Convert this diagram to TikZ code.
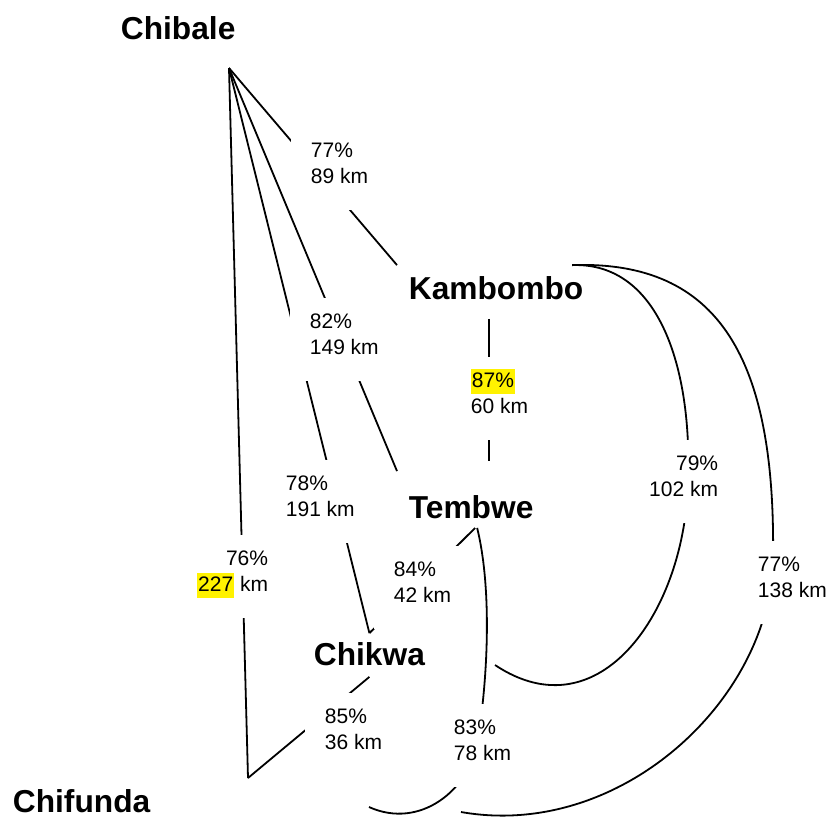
\documentclass[tikz,border=0pt]{standalone}
\usepackage{fontspec}
\setmainfont{Liberation Sans}

\newcommand{\hl}[1]{{\setlength{\fboxsep}{1pt}\colorbox{yellow}{\rule[-6pt]{0pt}{23pt}#1}}}
\newcommand{\twolines}[3][l]{\begin{tabular}[t]{@{}#1@{}}#2\\#3\end{tabular}}

\begin{document}
\begin{tikzpicture}[x=1pt,y=-1pt,line width=1.8pt,
place/.style={font=\fontsize{31.7}{38}\selectfont\bfseries,inner xsep=11pt,
    inner ysep=0pt,anchor=base west},
lbl/.style={fill=white,font=\fontsize{21}{26}\selectfont,inner xsep=20pt,
    inner ysep=0pt,text height=30pt,text depth=53pt,anchor=base west}]

\useasboundingbox (0,0) rectangle (827,823);

\node[place](chibalename) at (109,39) {Chibale};
\node[place](chifundaname) at (1,812) {Chifunda};
\node[place,text height=33pt,text depth=19pt](kambombo) at (397,299) {Kambombo};
\node[place,text height=56pt,text depth=9pt](tembwe) at (397,518) {Tembwe};
\node[place,text height=31pt,text depth=11pt](chikwa) at (302,665) {Chikwa};
\coordinate (chibale) at (229,68);
\coordinate (chifunda) at (248,778);
\coordinate (end79) at (495,665);
\coordinate (end77) at (461,812);
\coordinate (end83) at (369,807);

\draw (chibale) -- (kambombo.north west);
\draw (chibale) -- ([yshift=-10pt]tembwe.north west);
\draw (chibale) -- (chikwa.north);
\draw (chibale) -- (chifunda);
\draw ([xshift=-7pt]kambombo.south) -- ([xshift=-7pt]kambombo.south |- tembwe.north);
\draw ([xshift=4pt]tembwe.south) -- (chikwa.north);
\draw (chikwa.south) -- (chifunda);
\draw ([xshift=-23pt]kambombo.north east) .. controls (660,262) and (692,370) .. (688,480)
      .. controls (686,610) and (600,735) .. (end79);
\draw ([xshift=-23pt]kambombo.north east) .. controls (720,260) and (776,360) .. (773,560)
      .. controls (770,700) and (620,840) .. (end77);
\draw ([xshift=6pt]tembwe.south) .. controls (490,580) and (490,660) .. (478,740)
      .. controls (470,790) and (420,830) .. (end83);

\node[lbl](l77) at (290,157) {\twolines{77\%}{89 km}};
\node[lbl](l82) at (289,328) {\twolines{82\%}{149 km}};
\node[lbl](l78) at (265,490) {\twolines{78\%}{191 km}};
\node[lbl,anchor=base east](l76) at (289,565) {\twolines[r]{76\%}{\hl{227} km}};
\node[lbl](l87) at (450,387) {\twolines{\hl{87\%}}{60 km}};
\node[lbl,anchor=base east](l79) at (739,470) {\twolines[r]{79\%}{102 km}};
\node[lbl](l77b) at (737,571) {\twolines{77\%}{138 km}};
\node[lbl](l84) at (373,576) {\twolines{84\%}{42 km}};
\node[lbl](l85) at (304,723) {\twolines{85\%}{36 km}};
\node[lbl](l83) at (433,734) {\twolines{83\%}{78 km}};

\end{tikzpicture}
\end{document}
